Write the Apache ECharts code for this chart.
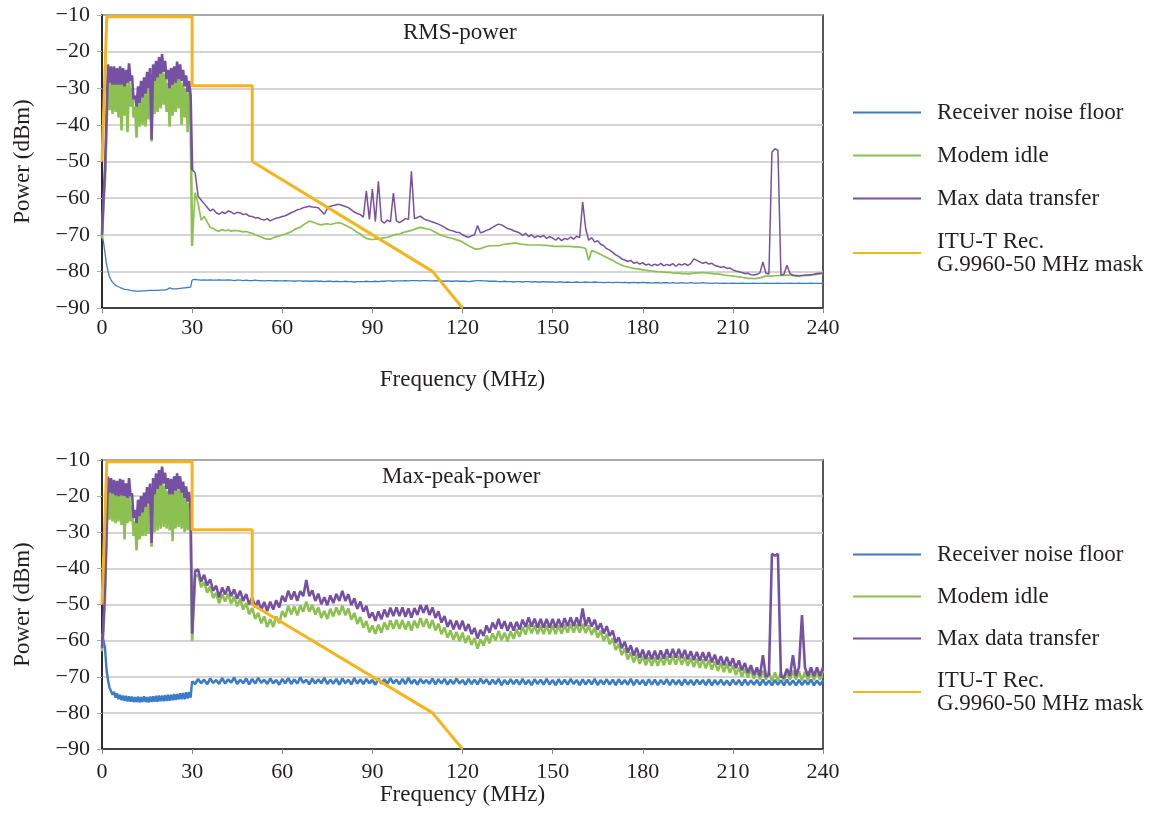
<!DOCTYPE html>
<html>
<head>
<meta charset="utf-8">
<script src="https://cdn.jsdelivr.net/npm/echarts@6/dist/echarts.min.js"></script>
<style>
html,body{margin:0;padding:0;background:#fff;}
#main{width:1161px;height:832px;}
</style>
</head>
<body>
<div id="main"></div>
<script>
// ---------- names / ticks ----------
const NOISE_NAME = 'Receiver noise floor';
const IDLE_NAME = 'Modem idle';
const MAX_NAME = 'Max data transfer';
const MASK_NAME = 'ITU-T Rec. G.9960-50 MHz mask';
const chartTitles = ['RMS-power', 'Max-peak-power'];
const xTicks = [0, 30, 60, 90, 120, 150, 180, 210, 240];
const yTicks = [-90, -80, -70, -60, -50, -40, -30, -20, -10];

// frequency sampling of the spectra: 0..29.5 MHz every 0.5 MHz, 30..240 MHz every 1 MHz
const freqLow = Array.from({length: 60}, (_, i) => i * 0.5);
const freqHigh = Array.from({length: 211}, (_, i) => 30 + i);

// ---------- ITU-T G.9960 mask ----------
const maskFreq  = [0, 1.6, 30, 30, 50, 50, 110, 120];
const maskPower = [-50, -10.5, -10.5, -29.3, -29.3, -50, -80, -90];

// ---------- RMS-power (top) ----------
const rmsNoiseLow = [
 -70, -72, -75, -78, -80, -81.5, -82.3, -83, -83.5, -83.8,
 -84, -84.2, -84.5, -84.6, -84.8, -84.9, -85, -85, -85.1, -85.2,
 -85.2, -85.3, -85.3, -85.4, -85.3, -85.4, -85.4, -85.3, -85.4, -85.3,
 -85.3, -85.2, -85.3, -85.2, -85.2, -85.2, -85.1, -85.2, -85.1, -85.1,
 -85, -85.1, -85, -85, -84.9, -84.5, -84.1, -84.8, -84.9, -84.8,
 -84.8, -84.7, -84.7, -84.6, -84.6, -84.5, -84.5, -84.4, -84.4, -84.3];
const rmsNoiseHigh = [
 -82.3, -82.2, -82.3, -82.4, -82.3, -82.4, -82.3, -82.4, -82.4, -82.3,
 -82.4, -82.4, -82.3, -82.4, -82.5, -82.4, -82.4, -82.5, -82.4, -82.5,
 -82.5, -82.4, -82.5, -82.5, -82.6, -82.5, -82.5, -82.6, -82.5, -82.6,
 -82.6, -82.5, -82.6, -82.6, -82.7, -82.6, -82.6, -82.7, -82.6, -82.7,
 -82.7, -82.6, -82.7, -82.7, -82.8, -82.7, -82.7, -82.8, -82.7, -82.8,
 -82.8, -82.7, -82.8, -82.8, -82.9, -82.8, -82.8, -82.8, -82.7, -82.8,
 -82.8, -82.7, -82.8, -82.7, -82.7, -82.6, -82.6, -82.7, -82.6, -82.6,
 -82.6, -82.5, -82.6, -82.5, -82.5, -82.5, -82.6, -82.5, -82.5, -82.6,
 -82.6, -82.5, -82.6, -82.6, -82.7, -82.6, -82.7, -82.7, -82.6, -82.7,
 -82.7, -82.7, -82.8, -82.7, -82.6, -82.5, -82.5, -82.6, -82.6, -82.7,
 -82.7, -82.7, -82.8, -82.8, -82.7, -82.8, -82.8, -82.9, -82.8, -82.8,
 -82.9, -82.8, -82.8, -82.9, -82.8, -82.9, -82.9, -82.8, -82.9, -82.9,
 -82.9, -83, -82.9, -82.9, -83, -82.9, -83, -83, -82.9, -83,
 -83, -82.9, -83, -83, -82.9, -83, -83, -83.1, -83, -83,
 -83.1, -83, -83, -83.1, -83, -83.1, -83.1, -83, -83.1, -83.1,
 -83, -83.1, -83.1, -83.2, -83.1, -83.1, -83.2, -83.1, -83.1, -83.2,
 -83.1, -83.2, -83.2, -83.1, -83.2, -83.2, -83.1, -83.2, -83.2, -83.2,
 -83.1, -83.2, -83.2, -83.3, -83.2, -83.2, -83.3, -83.2, -83.3, -83.3,
 -83.2, -83.3, -83.3, -83.2, -83.3, -83.3, -83.3, -83.2, -83.3, -83.3,
 -83.3, -83.2, -83.3, -83.3, -83.3, -83.2, -83.3, -83.3, -83.3, -83.2,
 -83.3, -83.3, -83.2, -83.3, -83.3, -83.3, -83.2, -83.3, -83.3, -83.3,
 -83.3];
const rmsIdleLow = [
 -71, -62, -55, -42, -27, -36, -27.5, -37, -27.5, -36.5,
 -28, -38, -27.5, -41.5, -28, -37.5, -28.5, -42, -27, -35,
 -30, -38, -35, -43.5, -33, -40.5, -31.5, -40, -30.5, -40.5,
 -29, -38.5, -28, -44.5, -27, -37, -26, -36.5, -25, -35.5,
 -24.5, -34.5, -26, -36.5, -28.5, -40.5, -28, -37.5, -27.5, -36.5,
 -26.5, -35.5, -27, -40, -28.5, -38, -30, -42, -31, -39];
const rmsIdleHigh = [
 -73, -58.5, -61.5, -66, -65, -66.5, -68, -68.3, -68.8, -69,
 -68.6, -68.9, -68.7, -69, -68.8, -68.9, -69, -69.2, -69.1, -69.4,
 -69.6, -70, -70.3, -70.6, -71, -71.2, -71.2, -70.8, -70.5, -70.3,
 -70, -69.8, -69.5, -69.2, -68.6, -68.2, -68, -67.3, -66.8, -66.3,
 -66.5, -66.8, -67.1, -67.3, -67.1, -67, -67.2, -67, -66.8, -66.7,
 -67, -67.4, -67.8, -68.2, -68.8, -69.4, -69.8, -70.5, -71, -71.2,
 -71.3, -71.2, -71.2, -71, -70.8, -70.7, -70.4, -70.1, -69.9, -69.8,
 -69.5, -69.2, -69, -68.8, -68.5, -68.2, -68, -68.2, -68.4, -68.5,
 -68.9, -69.3, -69.8, -70.1, -70.4, -70.7, -70.9, -71.1, -71.4, -71.6,
 -72, -72.5, -73, -73.4, -73.8, -73.9, -73.8, -73.5, -73.2, -73,
 -73, -73, -73, -72.8, -72.6, -72.5, -72.4, -72.3, -72.3, -72.5,
 -72.6, -72.7, -72.8, -72.8, -72.8, -72.8, -72.8, -72.9, -72.9, -73,
 -73.1, -73.2, -73.2, -73.2, -73.2, -73.2, -73.2, -73.3, -73.3, -73.4,
 -73.5, -73.8, -77, -74.3, -74.6, -75, -75.4, -75.8, -76.2, -76.6,
 -77, -77.5, -77.9, -78.3, -78.6, -78.8, -79, -79.2, -79.3, -79.4,
 -79.6, -79.7, -79.8, -79.9, -80, -80.1, -80.1, -80.2, -80.3, -80.3,
 -80.4, -80.5, -80.5, -80.6, -80.6, -80.7, -80.6, -80.5, -80.4, -80.4,
 -80.3, -80.4, -80.5, -80.6, -80.7, -80.7, -80.8, -81, -81.1, -81.2,
 -81.3, -81.4, -81.5, -81.6, -81.8, -81.9, -81.9, -82, -81.9, -81.8,
 -81.5, -81.3, -81.3, -81.3, -81.2, -81.2, -81.1, -81.1, -81, -81,
 -81.2, -81.3, -81.3, -81.2, -81.2, -81.1, -81, -80.9, -80.8, -80.7,
 -80.6];
const rmsMaxLow = [
 -70, -60, -52, -38, -23.5, -28.5, -24, -29, -24, -29,
 -24.5, -29, -24, -29, -24.5, -29.5, -25, -28.5, -23.2, -28,
 -26.5, -33, -32, -35, -29.5, -34, -28, -32.5, -27, -31.5,
 -25.5, -30, -24.5, -44, -23.5, -28, -22.5, -27, -21.5, -26,
 -20.7, -25.5, -22.5, -27.5, -25, -30, -24.5, -29, -24, -28.5,
 -22.7, -27.5, -23.5, -28, -25, -29.5, -26.5, -31, -28, -32];
const rmsMaxHigh = [
 -52.3, -53, -59.5, -60.5, -61.5, -62.5, -63.5, -63, -64, -64.4,
 -63.8, -64.2, -63.5, -63.8, -64.3, -63.9, -64, -64.5, -64.3, -64.9,
 -65, -65.4, -65.3, -65.8, -66, -65.6, -66.2, -65.8, -65.5, -65.3,
 -65, -64.8, -64.4, -64, -63.6, -63.2, -63, -62.6, -62.4, -62.2,
 -62.4, -62.5, -62.6, -63.5, -64.4, -62.8, -62.2, -62, -61.8, -61.7,
 -62, -62.3, -62.6, -63.2, -63.8, -64.2, -64.5, -65.2, -58, -65.8,
 -57.5, -66.4, -55.4, -66.2, -66.8, -66, -66.5, -58.6, -66.2, -66.7,
 -66.2, -65.6, -65.8, -52.7, -65.6, -65.3, -64.9, -65.6, -66, -66.2,
 -66.5, -66.8, -67.1, -67.5, -68, -68.5, -68.8, -69, -69.3, -69.4,
 -70, -70.4, -70.7, -70.3, -70, -67.5, -69.5, -69.2, -68.8, -68.5,
 -68, -67.5, -67.1, -67.3, -67.8, -68.3, -68.5, -68.9, -69.2, -69.5,
 -70.2, -69.6, -70.5, -70, -70.8, -70.3, -70.6, -70.2, -71, -70.5,
 -70.9, -71.5, -70.8, -71.6, -71, -71.3, -70.6, -71.2, -70.4, -70.8,
 -61, -68.3, -71.5, -70.8, -72, -71.6, -72.6, -73, -73.8, -74.2,
 -74.8, -75.5, -75.9, -76.6, -76.9, -77.3, -77, -77.8, -77.5, -78,
 -77.6, -78.3, -78, -78.5, -78, -78.4, -77.8, -78.5, -78.1, -78.4,
 -77.9, -78.6, -78, -78.3, -77.9, -78.4, -77.8, -76.6, -77, -77.4,
 -77.8, -77.5, -78, -77.8, -78.4, -78.6, -78.9, -78.7, -79.2, -79.1,
 -79.6, -79.9, -80.1, -80.3, -80.6, -80.5, -80.9, -81, -80.8, -80.4,
 -77.4, -80.5, -80.7, -47.5, -46.5, -47, -81, -80.8, -78.3, -80.6,
 -81, -81.1, -81.2, -81.1, -81, -81, -80.9, -80.8, -80.6, -80.5,
 -80.5];

// ---------- Max-peak-power (bottom) ----------
const peakNoiseLow = [
 -58, -60, -62, -68, -71, -73, -73.5, -75, -74.2, -75.8,
 -74.6, -76.2, -75, -76.5, -75.2, -76.7, -75.3, -76.8, -75.4, -76.9,
 -75.5, -77, -75.6, -77, -75.5, -77.1, -75.6, -77, -75.4, -77,
 -75.6, -77.1, -75.5, -77, -75.4, -76.9, -75.3, -76.9, -75.2, -76.8,
 -75.2, -76.8, -75.1, -76.7, -75, -76.6, -75, -76.5, -74.8, -76.4,
 -74.8, -76.3, -74.6, -76.2, -74.5, -76.2, -74.3, -76, -74.2, -75.8];
const peakNoiseHigh = [
 -71.2, -72, -70.6, -71.8, -70.8, -72.1, -70.5, -71.7, -70.9, -72,
 -70.4, -71.9, -70.7, -71.6, -70.2, -72, -70.8, -71.8, -70.5, -72.1,
 -70.6, -71.9, -70.3, -71.7, -70.8, -72, -70.5, -71.8, -70.9, -72.2,
 -70.6, -71.8, -70.4, -72, -70.7, -71.9, -70.2, -71.7, -70.8, -72.1,
 -70.5, -71.9, -70.7, -71.8, -70.3, -72, -70.8, -71.9, -70.6, -72.2,
 -70.5, -71.8, -70.8, -72.1, -70.4, -71.9, -70.7, -72, -70.6, -71.8,
 -70.9, -72.2, -70.5, -71.9, -70.7, -72, -70.4, -71.8, -70.8, -72.1,
 -70.6, -72, -70.3, -71.9, -70.8, -72.2, -70.6, -71.8, -70.9, -72,
 -70.5, -72.1, -70.7, -71.9, -70.6, -72.2, -70.8, -72, -70.5, -71.9,
 -70.9, -72.2, -70.6, -72, -70.8, -72.1, -70.5, -71.9, -70.7, -72.2,
 -70.8, -72, -70.6, -72.3, -70.9, -72.1, -70.7, -72, -70.8, -72.2,
 -70.6, -72.1, -70.9, -72.3, -70.7, -72, -70.8, -72.2, -70.6, -72.1,
 -70.9, -72.3, -70.7, -72.1, -70.8, -72.2, -70.6, -72, -70.9, -72.3,
 -70.7, -72.2, -70.8, -72.1, -70.6, -72.3, -70.9, -72.1, -70.7, -72.2,
 -70.8, -72.3, -70.7, -72.1, -70.9, -72.2, -70.6, -72.3, -70.8, -72.1,
 -70.9, -72.4, -70.7, -72.2, -70.8, -72.3, -70.9, -72.1, -70.7, -72.3,
 -70.8, -72.2, -70.9, -72.4, -70.7, -72.2, -70.9, -72.3, -70.8, -72.1,
 -70.9, -72.3, -70.7, -72.4, -70.9, -72.2, -70.8, -72.3, -71, -72.4,
 -70.8, -72.2, -70.9, -72.4, -70.8, -72.3, -71, -72.2, -70.9, -72.4,
 -70.8, -72.3, -71, -72.4, -70.9, -72.2, -71, -72.4, -70.8, -72.3,
 -71, -72.4, -70.9, -72.3, -71, -72.2, -70.8, -72.4, -71, -72.3,
 -71];
const peakIdleLow = [
 -63, -57, -48, -33, -17.5, -26.5, -18, -27, -18.5, -27.5,
 -19, -27, -18.5, -28, -18.5, -32, -19.5, -27.5, -18.5, -27,
 -22.5, -31, -27, -35, -24.5, -32, -23.5, -31, -22.5, -31,
 -21, -30.5, -20, -34, -18.5, -30, -17, -29.5, -16, -29,
 -15, -28.5, -17, -29, -18.5, -29.5, -18.5, -32.5, -18, -29,
 -17, -28.5, -17.5, -29, -19, -30, -20.5, -29.5, -22, -30];
const peakIdleHigh = [
 -60, -42.2, -41.8, -45.2, -43.8, -46.7, -45, -48.2, -46.8, -49.7,
 -47.1, -49.2, -47, -49.8, -47.8, -50.5, -48.4, -51.4, -49.6, -52.7,
 -51, -54, -52.3, -55.2, -53.3, -56.2, -54.1, -56.2, -53.3, -55.2,
 -51.8, -53.5, -50.4, -52.7, -50.5, -53, -50.3, -52, -49.2, -52,
 -50.1, -52.8, -50.8, -53.7, -51.8, -54, -51.2, -53.3, -50.8, -52.9,
 -50.3, -53, -51.1, -54.2, -52.4, -55.4, -53.5, -56.4, -54.6, -57.7,
 -55.8, -58.1, -55.6, -57.8, -55, -57, -54.4, -56.7, -54.3, -56.7,
 -54.3, -56.9, -54.7, -57.2, -54.5, -56.5, -53.8, -56.2, -54, -56.6,
 -54.3, -57.2, -55.3, -58.2, -56.3, -59.2, -57.2, -59.8, -57.6, -60.2,
 -57.8, -60.6, -58.6, -61.2, -59.3, -62.2, -59.6, -61.4, -58.6, -60.7,
 -58, -60, -57.3, -59.9, -57.8, -60.2, -57.4, -59.5, -56.8, -58.9,
 -56.2, -58.3, -55.6, -58, -55.8, -58.2, -55.8, -58.2, -55.8, -58.2,
 -55.8, -58.2, -55.8, -58.1, -55.6, -57.8, -55.4, -57.8, -55.4, -57.8,
 -55.4, -57.9, -55.8, -58.4, -56.4, -59.2, -57.2, -60.1, -58.1, -61,
 -59.4, -62.6, -60.9, -64, -62.2, -65.2, -63.2, -66, -63.8, -66.4,
 -64.2, -66.8, -64.6, -67, -64.6, -67, -64.5, -66.8, -64.3, -66.6,
 -64.2, -66.6, -64.2, -66.7, -64.5, -67, -64.8, -67.3, -65, -67.5,
 -65.2, -67.7, -65.3, -68, -65.8, -68.4, -66.1, -68.7, -66.4, -68.9,
 -66.8, -69.5, -67.4, -70, -67.8, -70.2, -68, -70.6, -68.3, -70.7,
 -68.3, -70.8, -68.6, -71.2, -68.8, -71.2, -68.8, -71.2, -68.6, -70.8,
 -68.3, -70.8, -68.5, -71, -68.6, -71, -68.5, -70.9, -68.4, -70.8,
 -68.3];
const peakMaxLow = [
 -62, -55, -45, -30, -14.6, -19, -15, -19.3, -15.5, -19.8,
 -15.8, -20, -15.2, -19.8, -15.5, -20, -16.5, -20.5, -15, -20,
 -19.2, -26, -23.8, -27.5, -21, -25.5, -20, -24.5, -19, -23,
 -17.5, -22, -16.5, -33, -15, -19.5, -13.7, -18, -12.8, -17,
 -11.8, -16.5, -13.5, -18, -15, -19.5, -15.2, -19.5, -14.5, -18.5,
 -13.7, -18, -14.5, -19, -16, -20.5, -17.3, -21.5, -18.8, -24];
const peakMaxHigh = [
 -58, -40.7, -40.3, -43.7, -41.8, -44.7, -43, -46.2, -44.8, -48,
 -45.3, -47.2, -45, -47.7, -45.8, -48.4, -46.2, -49, -47.1, -50,
 -48, -50.8, -48.8, -51.5, -49.3, -51.8, -49.2, -51.4, -48.8, -50.8,
 -47.6, -49.2, -46.2, -48.6, -46.4, -49, -46.3, -47.7, -43.2, -47.7,
 -46.1, -49, -47, -49.9, -48, -50.2, -47.5, -49.6, -47.1, -49,
 -46.2, -49, -47.2, -50.2, -48.3, -51.2, -49.2, -52, -50.4, -53.7,
 -52.2, -54.5, -51.9, -54.1, -51.4, -53.5, -50.9, -53.2, -50.8, -53.2,
 -50.8, -53.4, -51.1, -53.6, -51, -52.9, -50.1, -52.3, -50.2, -52.9,
 -50.8, -53.7, -51.9, -55, -53.2, -56.2, -54.3, -56.9, -54.5, -56.9,
 -54.5, -57.3, -55.4, -58.2, -56.5, -59.4, -57, -58.7, -55.8, -57.8,
 -55, -56.8, -54, -56.7, -54.6, -57.3, -54.9, -57.2, -54.8, -56.9,
 -54.2, -56.2, -53.6, -56.1, -53.9, -56.4, -54, -56.4, -54, -56.4,
 -54, -56.4, -54, -56.3, -53.8, -56, -53.6, -56, -53.6, -56,
 -51.1, -56, -53.6, -56.1, -54.2, -57, -55.2, -58, -56, -58.7,
 -57.2, -60.6, -59.1, -62.1, -60.3, -63.3, -61.3, -64.1, -62, -64.7,
 -62.5, -65.1, -62.8, -65.2, -62.8, -65.2, -62.7, -65, -62.4, -64.7,
 -62.3, -64.7, -62.3, -64.8, -62.6, -65.2, -62.9, -65.4, -63.1, -65.6,
 -63.2, -65.6, -63.2, -66, -63.9, -66.6, -64.3, -66.8, -64.5, -67,
 -64.9, -67.6, -65.5, -68.2, -66.2, -68.9, -66.8, -69.5, -67.4, -69.8,
 -64, -70, -69.5, -36, -36.5, -36, -70, -70.2, -67.8, -69.8,
 -64, -69.8, -67.4, -52.9, -67.4, -69.8, -67.4, -69.8, -67.4, -69.8,
 -67.4];

// ---------- build ----------
// low band (0-30 MHz) part, joined to the first point of the high part
function lowPart(low, high) {
  const out = low.map((v, i) => [freqLow[i], v]);
  out.push([freqHigh[0], high[0]]);
  return out;
}
function highPart(high) {
  return high.map((v, i) => [freqHigh[i], v]);
}
const maskData = maskFreq.map((f, i) => [f, maskPower[i]]);

const FONT = '"Liberation Serif", "Times New Roman", serif';
const INK = '#231f20';
const COLORS = {noise: '#3b7cc8', idle: '#8cc152', max: '#7650a3', mask: '#f5b51a'};

function lineSeries(name, data, color, idx, width, z) {
  return {
    name, type: 'line', data, xAxisIndex: idx, yAxisIndex: idx,
    showSymbol: false, symbol: 'none', silent: true, z,
    lineStyle: {color, width, join: 'bevel'}, itemStyle: {color},
    emphasis: {disabled: true}
  };
}

function xAxisFor(idx, nameGap, margin) {
  return {
    gridIndex: idx, type: 'value', min: xTicks[0], max: xTicks[xTicks.length - 1], interval: 30,
    axisLine: {show: true, onZero: false, lineStyle: {color: INK, width: 1.5}},
    axisTick: {show: true, length: 5, lineStyle: {color: '#888', width: 1}},
    axisLabel: {fontFamily: FONT, fontSize: 22, color: INK, margin},
    splitLine: {show: false},
    name: 'Frequency (MHz)', nameLocation: 'middle', nameGap,
    nameTextStyle: {fontFamily: FONT, fontSize: 23, color: INK}
  };
}
function yAxisFor(idx) {
  return {
    gridIndex: idx, type: 'value', min: yTicks[0], max: yTicks[yTicks.length - 1], interval: 10,
    axisLine: {show: true, onZero: false, lineStyle: {color: INK, width: 1.5}},
    axisTick: {show: true, length: 5, lineStyle: {color: '#aaa', width: 1}},
    axisLabel: {fontFamily: FONT, fontSize: 22, color: INK, margin: 12,
      formatter: v => String(v).replace('-', '\u2212')},
    splitLine: {show: true, lineStyle: {color: '#c6c6c6', width: 1.5}},
    name: 'Power (dBm)', nameLocation: 'middle', nameGap: 68, nameRotate: 90,
    nameTextStyle: {fontFamily: FONT, fontSize: 23, color: INK}
  };
}
function legendFor(top, gap) {
  return {
    data: [NOISE_NAME, IDLE_NAME, MAX_NAME, MASK_NAME],
    orient: 'vertical', left: 853, top, padding: 0,
    icon: 'rect', itemWidth: 68, itemHeight: 2, itemGap: gap,
    selectedMode: false,
    textStyle: {fontFamily: FONT, fontSize: 23, lineHeight: 23, color: INK, padding: [0, 0, 0, 11]},
    formatter: n => n === MASK_NAME ? 'ITU-T Rec.\nG.9960-50 MHz mask' : n
  };
}

const chart = echarts.init(document.getElementById('main'), null, {renderer: 'canvas'});
chart.setOption({
  animation: false,
  backgroundColor: '#fff',
  textStyle: {fontFamily: FONT},
  title: [
    {text: chartTitles[0], left: 403, top: 21, padding: 0,
     textStyle: {fontFamily: FONT, fontSize: 23, fontWeight: 'normal', color: INK}},
    {text: chartTitles[1], left: 382, top: 465, padding: 0,
     textStyle: {fontFamily: FONT, fontSize: 23, fontWeight: 'normal', color: INK}}
  ],
  legend: [legendFor(101, 20), legendFor(543, 19)],
  grid: [
    {left: 102, top: 15, width: 721, height: 293, show: true, borderColor: INK, borderWidth: 1.5,
     backgroundColor: 'transparent', outerBoundsMode: 'none'},
    {left: 102, top: 460, width: 721, height: 289, show: true, borderColor: INK, borderWidth: 1.5,
     backgroundColor: 'transparent', outerBoundsMode: 'none'}
  ],
  xAxis: [xAxisFor(0, 60, 9), xAxisFor(1, 29, 12)],
  yAxis: [yAxisFor(0), yAxisFor(1)],
  series: [
    // RMS-power
    lineSeries(NOISE_NAME, lowPart(rmsNoiseLow, rmsNoiseHigh), COLORS.noise, 0, 1.3, 2),
    lineSeries(NOISE_NAME, highPart(rmsNoiseHigh), COLORS.noise, 0, 1.3, 2),
    lineSeries(IDLE_NAME, lowPart(rmsIdleLow, rmsIdleHigh), COLORS.idle, 0, 2.6, 3),
    lineSeries(IDLE_NAME, highPart(rmsIdleHigh), COLORS.idle, 0, 1.7, 3),
    lineSeries(MAX_NAME, lowPart(rmsMaxLow, rmsMaxHigh), COLORS.max, 0, 2.6, 4),
    lineSeries(MAX_NAME, highPart(rmsMaxHigh), COLORS.max, 0, 1.5, 4),
    lineSeries(MASK_NAME, maskData, COLORS.mask, 0, 3, 5),
    // Max-peak-power
    lineSeries(NOISE_NAME, lowPart(peakNoiseLow, peakNoiseHigh), COLORS.noise, 1, 2.4, 2),
    lineSeries(NOISE_NAME, highPart(peakNoiseHigh), COLORS.noise, 1, 2.6, 2),
    lineSeries(IDLE_NAME, lowPart(peakIdleLow, peakIdleHigh), COLORS.idle, 1, 2.6, 3),
    lineSeries(IDLE_NAME, highPart(peakIdleHigh), COLORS.idle, 1, 2.6, 3),
    lineSeries(MAX_NAME, lowPart(peakMaxLow, peakMaxHigh), COLORS.max, 1, 2.6, 4),
    lineSeries(MAX_NAME, highPart(peakMaxHigh), COLORS.max, 1, 2.6, 4),
    lineSeries(MASK_NAME, maskData, COLORS.mask, 1, 3, 5)
  ]
});
</script>
</body>
</html>
